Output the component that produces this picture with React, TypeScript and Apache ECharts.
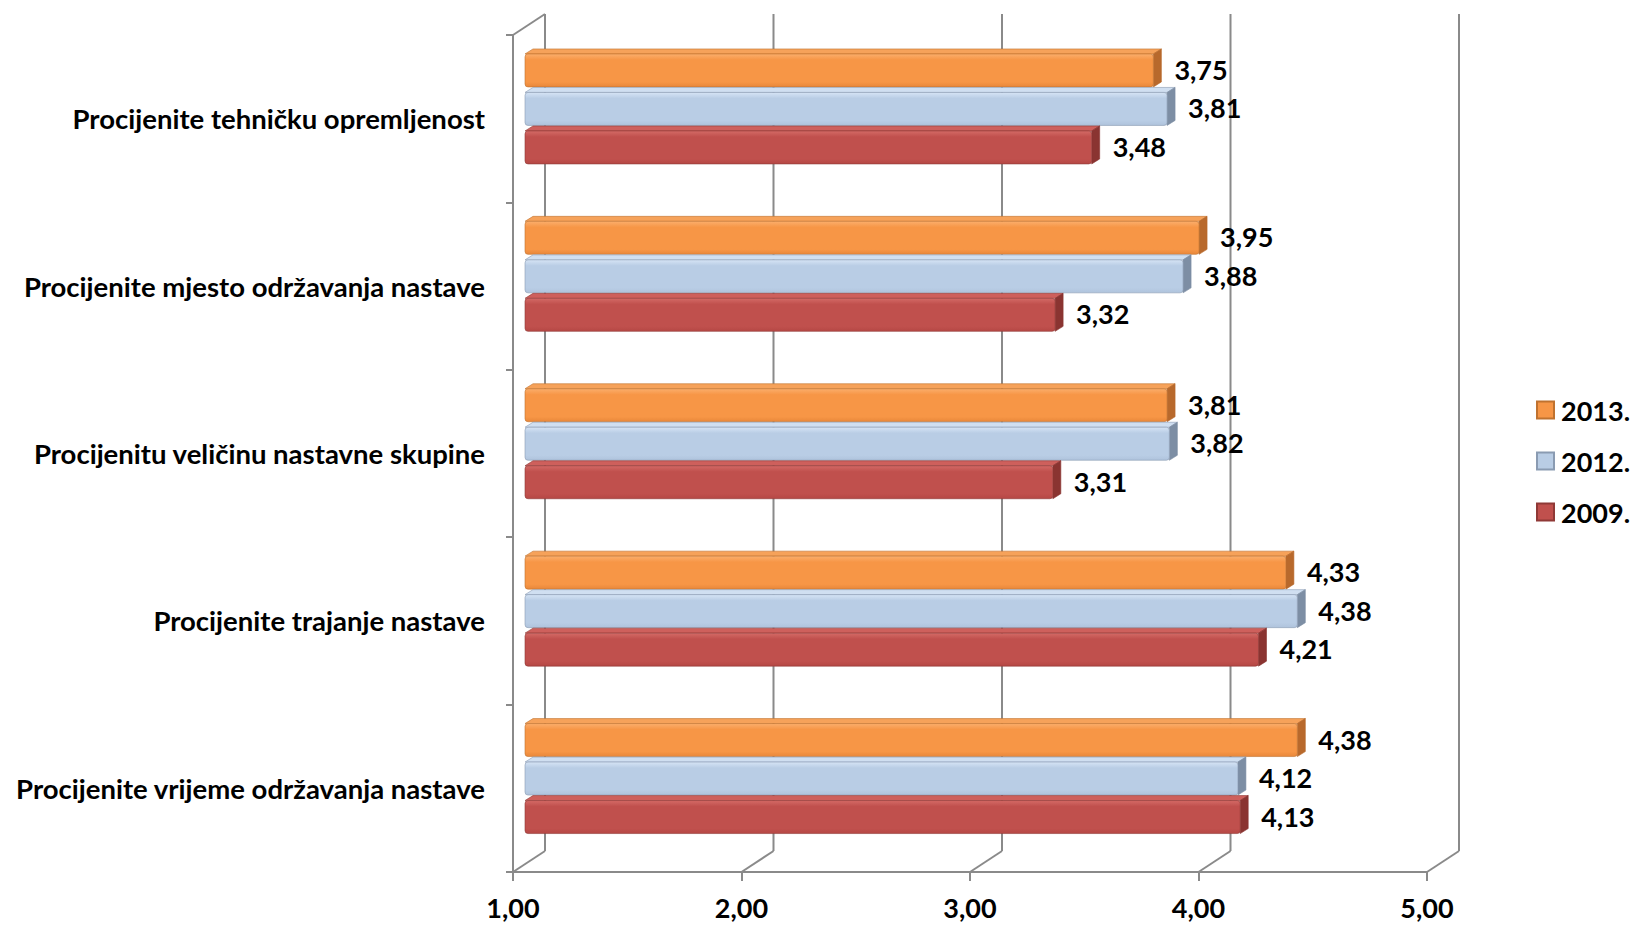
import React, { useEffect, useRef } from "react";
import * as echarts from "echarts";

const categories = [
  "Procijenite tehničku opremljenost",
  "Procijenite mjesto održavanja nastave",
  "Procijenitu veličinu nastavne skupine",
  "Procijenite trajanje nastave",
  "Procijenite vrijeme održavanja nastave",
];
const seriesNames = ["2013.", "2012.", "2009."];
const values2013 = [3.75, 3.95, 3.81, 4.33, 4.38];
const values2012 = [3.81, 3.88, 3.82, 4.38, 4.12];
const values2009 = [3.48, 3.32, 3.31, 4.21, 4.13];
const xTicks = [1, 2, 3, 4, 5];

const palette = [
  { base: "#F79646", light: "#FBAE6C", dark: "#E8873A", top: "#F6A25A", side: "#B8692C", border: "#C0722F" },
  { base: "#B9CDE5", light: "#D6E4F5", dark: "#AFC3DC", top: "#D0DFF1", side: "#7D8EA4", border: "#8A9BB2" },
  { base: "#C0504D", light: "#D46A66", dark: "#B54744", top: "#CE605C", side: "#8A3431", border: "#8F3936" },
];

const FONT = "Lato, 'Open Sans', sans-serif";
const fmt = (v: number) => v.toFixed(2).replace(".", ",");

export default function App() {
  const ref = useRef<HTMLDivElement>(null);
  useEffect(() => {
    if (!ref.current) return;
    const chart = echarts.init(ref.current, null, { renderer: "svg" });
    const WALL_DX = 32, WALL_DY = -21;
    const PLANE_DX = 12;
    const DEPTH_X = 8, DEPTH_Y = 5;
    const GRAY = "#8a8a8a";
    const allValues = [values2013, values2012, values2009];

    const barSeries = allValues.map((vals, s) => ({
      type: "custom",
      name: seriesNames[s],
      clip: false,
      z: 5,
      itemStyle: { color: palette[s].base, borderColor: palette[s].border, borderWidth: 1 },
      encode: { x: 0, y: 1 },
      data: vals.map((v, i) => [v, i]),
      renderItem: (params: any, api: any) => {
        const v = api.value(0);
        const ci = api.value(1);
        const p0 = api.coord([1, ci]);
        const p1 = api.coord([v, ci]);
        const band = api.size([0, 1])[1];
        const group = band * 0.69;
        const slot = group / 3;
        const slotTop = p0[1] - group / 2 + s * slot - 12;
        const frontTop = slotTop + DEPTH_Y;
        const frontBottom = slotTop + slot - 0.5;
        const left = p0[0] + PLANE_DX;
        const right = p1[0] + PLANE_DX;
        const c = palette[s];
        return {
          type: "group",
          children: [
            {
              type: "polygon",
              shape: {
                points: [
                  [left, frontTop],
                  [left + DEPTH_X, slotTop],
                  [right + DEPTH_X, slotTop],
                  [right, frontTop],
                ],
              },
              style: { fill: c.top, stroke: c.border, lineWidth: 0.6 },
            },
            {
              type: "polygon",
              shape: {
                points: [
                  [right, frontTop],
                  [right + DEPTH_X, slotTop],
                  [right + DEPTH_X, frontBottom - DEPTH_Y],
                  [right, frontBottom],
                ],
              },
              style: { fill: c.side, stroke: c.side, lineWidth: 0.6 },
            },
            {
              type: "rect",
              shape: { x: left, y: frontTop, width: right - left, height: frontBottom - frontTop, r: 3 },
              style: {
                fill: new echarts.graphic.LinearGradient(0, 0, 0, 1, [
                  { offset: 0, color: c.light },
                  { offset: 0.18, color: c.base },
                  { offset: 0.85, color: c.base },
                  { offset: 1, color: c.dark },
                ]),
                stroke: c.border,
                lineWidth: 0.6,
              },
            },
            {
              type: "text",
              style: {
                text: fmt(v),
                x: right + DEPTH_X + 13,
                y: (frontTop + frontBottom) / 2 - 1,
                fill: "#000",
                fontSize: 27,
                fontWeight: "bold",
                fontFamily: FONT,
                align: "left",
                verticalAlign: "middle",
              },
            },
          ],
        };
      },
    }));

    const wallSeries = {
      type: "custom",
      name: "wall",
      clip: false,
      z: 1,
      silent: true,
      encode: { x: 0, y: 1 },
      data: xTicks.map((t) => [t, 0]),
      renderItem: (params: any, api: any) => {
        const t = api.value(0);
        const x = api.coord([t, 0])[0];
        const cs = params.coordSys;
        const top = cs.y;
        const bottom = cs.y + cs.height;
        const ls = { stroke: GRAY, lineWidth: 2 };
        const children: any[] = [
          { type: "line", shape: { x1: x + WALL_DX, y1: top + WALL_DY, x2: x + WALL_DX, y2: bottom + WALL_DY }, style: ls },
          { type: "line", shape: { x1: x, y1: bottom, x2: x + WALL_DX, y2: bottom + WALL_DY }, style: ls },
        ];
        if (t === xTicks[0]) {
          children.push({ type: "line", shape: { x1: x, y1: top, x2: x + WALL_DX, y2: top + WALL_DY }, style: ls });
        }
        return { type: "group", children };
      },
    };

    chart.setOption({
      animation: false,
      backgroundColor: "#fff",
      grid: { left: 513, right: 211, top: 35, bottom: 54, containLabel: false },
      legend: {
        data: seriesNames,
        orient: "vertical",
        left: 1536,
        top: 393,
        itemWidth: 17,
        itemHeight: 17,
        itemGap: 17,
        padding: 0,
        icon: "rect",
        textStyle: { fontSize: 27, fontWeight: "bold", fontFamily: FONT, color: "#000", lineHeight: 34, padding: [0, 0, 0, 2] },
      },
      xAxis: {
        type: "value",
        min: 1,
        max: 5,
        interval: 1,
        axisLine: { show: true, lineStyle: { color: GRAY, width: 2 } },
        axisTick: { show: true, length: 9, lineStyle: { color: GRAY, width: 2 } },
        splitLine: { show: false },
        axisLabel: {
          formatter: (v: number) => fmt(v),
          margin: 22,
          fontSize: 27,
          fontWeight: "bold",
          fontFamily: FONT,
          color: "#000",
        },
      },
      yAxis: {
        type: "category",
        inverse: true,
        data: categories,
        axisLine: { show: true, lineStyle: { color: GRAY, width: 2 } },
        axisTick: { show: true, length: 7, lineStyle: { color: GRAY, width: 2 } },
        axisLabel: { margin: 28, fontSize: 27.5, fontWeight: "bold", fontFamily: FONT, color: "#000" },
      },
      series: [wallSeries, ...barSeries],
    });
    return () => chart.dispose();
  }, []);
  return <div ref={ref} style={{ position: "fixed", left: 0, top: 0, width: 1638, height: 926 }} />;
}
